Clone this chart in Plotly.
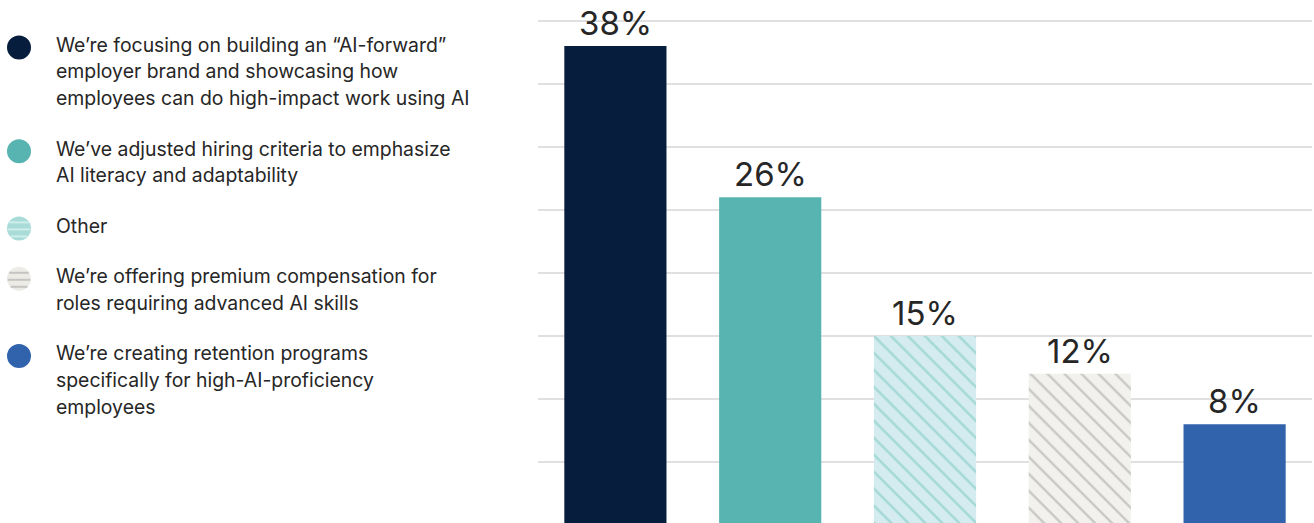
import plotly.graph_objects as go

# ---------------- data ----------------
categories = [
    "We’re focusing on building an “AI-forward” employer brand and showcasing how employees can do high-impact work using AI",
    "We’ve adjusted hiring criteria to emphasize AI literacy and adaptability",
    "Other",
    "We’re offering premium compensation for roles requiring advanced AI skills",
    "We’re creating retention programs specifically for high-AI-proficiency employees",
]
legend_lines = [
    ["We’re focusing on building an “AI-forward”",
     "employer brand and showcasing how",
     "employees can do high-impact work using AI"],
    ["We’ve adjusted hiring criteria to emphasize",
     "AI literacy and adaptability"],
    ["Other"],
    ["We’re offering premium compensation for",
     "roles requiring advanced AI skills"],
    ["We’re creating retention programs",
     "specifically for high-AI-proficiency",
     "employees"],
]
values = [38, 26, 15, 12, 8]
value_labels = ["38%", "26%", "15%", "12%", "8%"]

# ---------------- styles ----------------
bar_colors = ["#061d3d", "#58b4b0", "#d4ecef", "#f2f1ed", "#3163ac"]
pattern_shapes = ["", "", "\\", "\\", ""]
pattern_fg = ["#061d3d", "#58b4b0", "#a3d8d6", "#c9c9c6", "#3163ac"]
legend_fill = ["#061d3d", "#58b4b0", "#a9dcd8", "#ecebe6", "#3163ac"]
legend_stripe = [None, None, "#cdeeeb", "#c4c4c2", None]
TEXT = "#262626"
FONT = "Inter"

W, H = 1314, 523
ML, MR, MT, MB = 538, 2, 0, 0
PW = W - ML - MR
PH = H - MT - MB

fig = go.Figure()
for i, v in enumerate(values):
    marker = dict(color=bar_colors[i], line=dict(width=0))
    if pattern_shapes[i]:
        marker["pattern"] = dict(shape=pattern_shapes[i], fgcolor=pattern_fg[i],
                                 bgcolor=bar_colors[i], size=12, solidity=0.2,
                                 fgopacity=1, fillmode="replace")
    fig.add_trace(go.Bar(
        x=[i], y=[v], width=0.66, marker=marker,
        hovertext=[categories[i]], name=categories[i], showlegend=False,
    ))

annotations = []
for i, (v, lab) in enumerate(zip(values, value_labels)):
    annotations.append(dict(
        x=i, y=v, xref="x", yref="y", text=lab, showarrow=False,
        xanchor="center", yanchor="bottom", yshift=1,
        font=dict(family=FONT, size=33, color=TEXT),
    ))

def px_to_paper_x(px):
    return (px - ML) / PW

def px_to_paper_y(py):
    return (H - MB - py) / PH

shapes = []
LINE_H = 26.7
GAP = 23.7
baseline = 51.7
R = 12
CX = 19
TX = 54
for k, lines in enumerate(legend_lines):
    cy = baseline - 4.2
    shapes.append(dict(
        type="circle", xref="paper", yref="paper",
        x0=px_to_paper_x(CX - R), x1=px_to_paper_x(CX + R),
        y0=px_to_paper_y(cy + R), y1=px_to_paper_y(cy - R),
        fillcolor=legend_fill[k], line=dict(width=0), layer="above",
    ))
    if legend_stripe[k]:
        for off in (-6, 1, 8):
            half = (R * R - off * off) ** 0.5 - 0.6
            shapes.append(dict(
                type="line", xref="paper", yref="paper",
                x0=px_to_paper_x(CX - half), x1=px_to_paper_x(CX + half),
                y0=px_to_paper_y(cy + off), y1=px_to_paper_y(cy + off),
                line=dict(color=legend_stripe[k], width=2), layer="above",
            ))
    for j, line in enumerate(lines):
        bl = baseline + j * LINE_H
        annotations.append(dict(
            x=px_to_paper_x(TX), y=px_to_paper_y(bl - 7.0),
            xref="paper", yref="paper", text=line, showarrow=False,
            xanchor="left", yanchor="middle",
            font=dict(family=FONT, size=19.4, color=TEXT),
        ))
    baseline += len(lines) * LINE_H + GAP

px_per_unit = 12.609
zero_px = 525.05
y_min = (zero_px - (H - MB)) / px_per_unit
y_max = (zero_px - MT) / px_per_unit

fig.update_layout(
    width=W, height=H,
    margin=dict(l=ML, r=MR, t=MT, b=MB, pad=0),
    paper_bgcolor="white", plot_bgcolor="white",
    barmode="overlay",
    xaxis=dict(range=[-0.5, 4.5], showticklabels=False, showgrid=False,
               zeroline=False, showline=False, fixedrange=True),
    yaxis=dict(range=[y_min, y_max], tick0=0, dtick=5, showgrid=True,
               gridcolor="#e0e0e0", gridwidth=2, showticklabels=False,
               zeroline=False, showline=False, fixedrange=True),
    annotations=annotations,
    shapes=shapes,
    font=dict(family=FONT, color=TEXT),
)

fig.write_html("out.html", config={"displayModeBar": False})
